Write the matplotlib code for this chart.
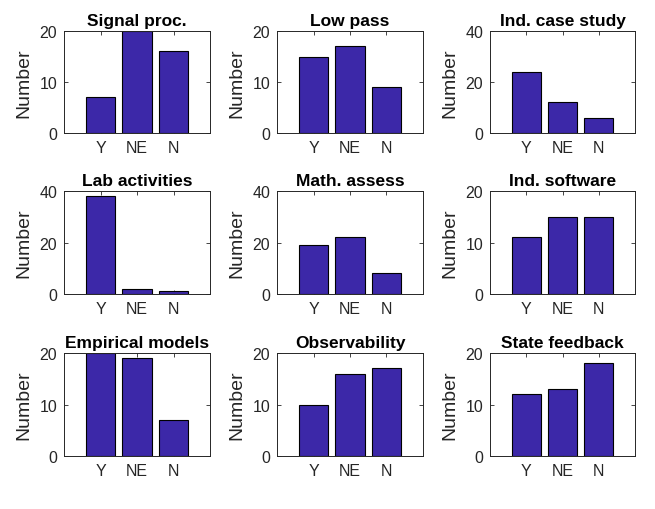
import matplotlib
matplotlib.use("Agg")
import matplotlib.pyplot as plt

plt.rcParams['font.family'] = ['Liberation Sans', 'DejaVu Sans']

categories = ["Y", "NE", "N"]
titles = ["Signal proc.", "Low pass", "Ind. case study",
          "Lab activities", "Math. assess", "Ind. software",
          "Empirical models", "Observability", "State feedback"]
signal_proc = [7, 20, 16]
low_pass = [15, 17, 9]
ind_case_study = [24, 12, 6]
lab_activities = [38, 2, 1]
math_assess = [19, 22, 8]
ind_software = [11, 15, 15]
empirical_models = [20, 19, 7]
observability = [10, 16, 17]
state_feedback = [12, 13, 18]
series = [signal_proc, low_pass, ind_case_study, lab_activities, math_assess,
          ind_software, empirical_models, observability, state_feedback]
ymaxes = [20, 20, 40, 40, 40, 20, 20, 20, 20]

W, H = 655, 510
fig = plt.figure(figsize=(W / 100, H / 100), dpi=100)

cols = [(64, 210), (277, 423), (490, 635)]
rows = [(32, 134), (192, 295), (354, 457)]

bar_color = '#3C28A8'
axis_color = '#262626'

for i, (title, vals, ymax) in enumerate(zip(titles, series, ymaxes)):
    r, c = divmod(i, 3)
    l, rt = cols[c]
    t, b = rows[r]
    ax = fig.add_axes([l / W, 1 - b / H, (rt - l) / W, (b - t) / H])
    x = list(range(1, len(categories) + 1))
    ax.bar(x, vals, width=0.8, color=bar_color, edgecolor='black', linewidth=0.8, zorder=2)
    ax.set_xlim(0, 4)
    ax.set_ylim(0, ymax)
    ax.set_yticks([0, ymax / 2, ymax])
    ax.set_yticklabels([f"{int(v)}" for v in [0, ymax / 2, ymax]])
    ax.set_xticks(x)
    ax.set_xticklabels(categories)
    ax.tick_params(direction='in', length=3, width=0.6, colors=axis_color,
                   labelsize=11.5, top=True, right=True, pad=5)
    for s in ax.spines.values():
        s.set_color(axis_color)
        s.set_linewidth(0.7)
    ax.set_ylabel("Number", fontsize=14, color=axis_color, labelpad=5)
    ax.set_title(title, fontsize=12.5, fontweight='bold', color='black', pad=4)

fig.savefig("out.png", dpi=100)
